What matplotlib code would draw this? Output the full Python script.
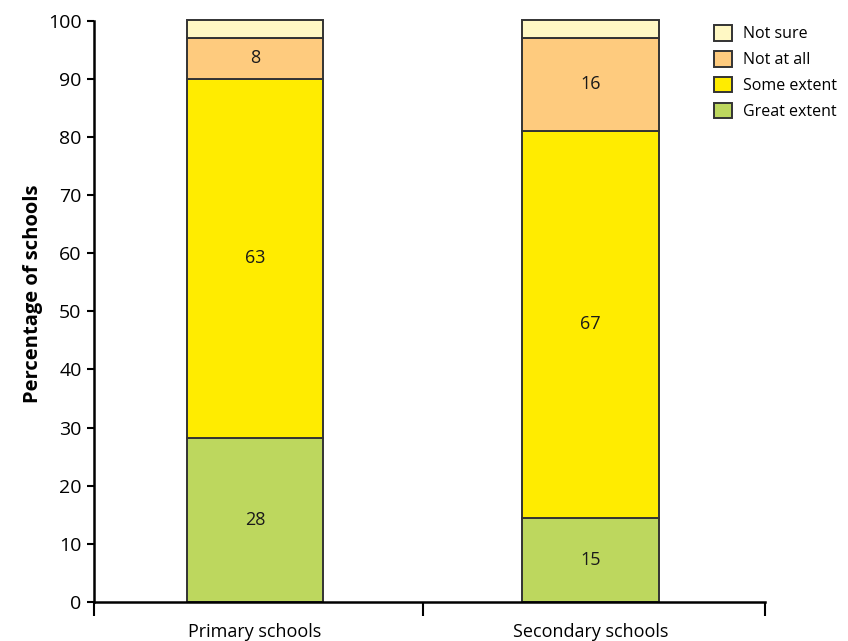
import matplotlib
matplotlib.use("Agg")
import matplotlib.pyplot as plt
from matplotlib.patches import Patch
import numpy as np

categories = ["Primary schools", "Secondary schools"]
series_names = ["Great extent", "Some extent", "Not at all", "Not sure"]
great_extent = [28.2, 14.5]
some_extent = [61.8, 66.6]
not_at_all = [7.0, 15.9]
not_sure = [3.1, 3.1]
shown_labels = [["28", "15"], ["63", "67"], ["8", "16"], [None, None]]
colors = ["#BDD75E", "#FFEC00", "#FECB7E", "#FFF8C4"]
y_ticks = [0, 10, 20, 30, 40, 50, 60, 70, 80, 90, 100]

plt.rcParams['font.family'] = ['Open Sans', 'DejaVu Sans']

fig = plt.figure(figsize=(8.48, 6.41), dpi=100)
ax = fig.add_axes([94/848, 1 - 602/641, (765 - 94)/848, (602 - 20.7)/641])

x = np.arange(len(categories))
width = 0.406
bottom = np.zeros(len(categories))
series = [great_extent, some_extent, not_at_all, not_sure]
for vals, col, labs in zip(series, colors, shown_labels):
    vals = np.array(vals)
    ax.bar(x, vals, width, bottom=bottom, color=col, edgecolor="#333333",
           linewidth=1.4, clip_on=False, zorder=2)
    for xi, v, b, lab in zip(x, vals, bottom, labs):
        if lab:
            ax.text(xi, b + v / 2, lab, ha="center", va="center",
                    fontsize=13, color="#1a1a1a", zorder=3)
    bottom = bottom + vals

ax.set_xlim(-0.48, 1.52)
ax.set_ylim(0, 100)
ax.set_yticks(y_ticks)
ax.tick_params(axis="y", labelsize=14, length=5, width=1.5, pad=4,
               colors="black")
ax.set_xticks(x)
ax.set_xticklabels(categories, fontsize=13)
ax.tick_params(axis="x", which="major", length=0, pad=15)
ax.set_xticks([-0.48, 0.5, 1.52], minor=True)
ax.tick_params(axis="x", which="minor", length=10, width=1.5, direction="out")

for s in ["top", "right"]:
    ax.spines[s].set_visible(False)
for s in ["left", "bottom"]:
    ax.spines[s].set_linewidth(1.8)

ax.set_ylabel("Percentage of schools", fontsize=14.5, fontweight="bold")
ax.yaxis.set_label_coords(-0.076, 0.53)

handles = [Patch(facecolor=c, edgecolor="#333333", linewidth=1.4, label=n)
           for c, n in zip(colors[::-1], series_names[::-1])]
fig.legend(handles=handles, loc="upper left", bbox_to_anchor=(708/848, 1 - 19/641),
           frameon=False, fontsize=11.5, handlelength=1.1, handleheight=1.1,
           handletextpad=0.7, labelspacing=0.55, borderaxespad=0)

fig.savefig("out.png", dpi=100)
